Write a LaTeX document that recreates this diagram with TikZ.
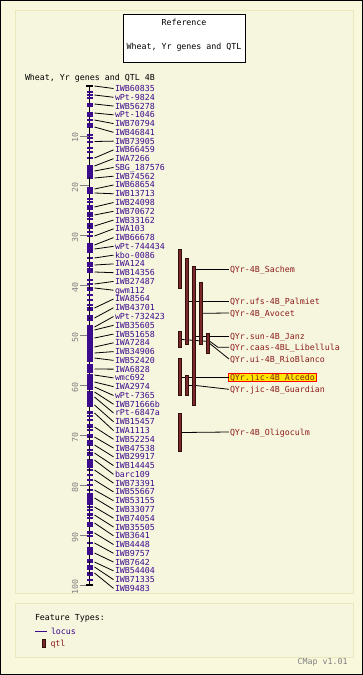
\documentclass[tikz,border=0pt]{standalone}
\usepackage{fontspec}
\newfontfamily\pixfont{DejaVu Sans Mono}
\definecolor{outerbg}{RGB}{250,248,220}
\definecolor{innerbg}{RGB}{246,245,222}
\definecolor{innerline}{RGB}{234,232,188}
\definecolor{locuscol}{RGB}{60,10,140}
\definecolor{qtlfill}{RGB}{125,40,40}
\definecolor{qtltext}{RGB}{140,30,30}
\definecolor{scalecol}{RGB}{128,128,128}
\definecolor{hilite}{RGB}{255,232,0}
\tikzset{
  txt/.style={font=\pixfont\fontsize{8.3}{9}\selectfont, inner sep=0pt, outer sep=0pt, text height=6.5pt, text depth=0.5pt},
  locuslabel/.style={txt, text=locuscol, anchor=west},
  qtllabel/.style={txt, text=qtltext, anchor=west},
  scalelabel/.style={txt, text=scalecol, rotate=90},
  conn/.style={draw=black, line width=0.8pt},
  qtlbar/.style={fill=qtlfill, draw=black!60!qtlfill, line width=0.5pt},
  panel/.style={draw=innerline, fill=innerbg, line width=1pt},
}
\begin{document}
\begin{tikzpicture}[x=1pt,y=-1pt]
\useasboundingbox (0,0) rectangle (363,675);
\fill[outerbg] (0,0) rectangle (363,675);
\draw[black, line width=1pt] (0.5,0.5) rectangle (362.5,674.5);
\path[panel] (15,10) rectangle (353,593);
\path[panel] (15,603) rectangle (353,657);

% title box
\node[draw=black, fill=white, line width=0.8pt, minimum width=122pt, minimum height=48pt, inner sep=0pt] (titlebox) at (184,38) {};
\node[txt] (ttl1) at (184,22) {Reference};
\node[txt] (ttl2) at (184,46) {Wheat, Yr genes and QTL};
\node[txt, anchor=west] (hdr) at (25,77) {Wheat, Yr genes and QTL 4B};

% scale
\foreach \v in {10,20,...,100} {
  \pgfmathsetmacro\yy{86+4.99*\v}
  \draw[scalecol, line width=0.8pt] (80,\yy) -- (89,\yy);
  \node[scalelabel] (s\v) at (75,\yy+2) {\v};
}

% connectors of loci (drawn first)
\foreach \nm/\ly [count=\i] in {
 IWB60835/86, wPt-9824/95, IWB56278/104, wPt-1046/113, IWB70794/120, IWB46841/127,
 IWB73905/141.5, IWB66459/158, IWA7266/166, SBG\_187576/171, IWB74562/178, IWB68654/189,
 IWB13713/193, IWB24098/207, IWB70672/215, IWB33162/226, IWA103/236, IWB66678/245,
 wPt-744434/249, kbo-0086/258, IWA124/265, IWB14356/272, IWB27487/284, gwm112/288,
 IWA8564/308, IWB43701/318, wPt-732423/327, IWB35605/330, IWB51658/338, IWA7284/347,
 IWB34906/353, IWB52420/358, IWA6828/369, wmc692/375, IWA2974/382, wPt-7365/387,
 IWB71666b/392, rPt-6847a/397, IWB15457/405, IWA1113/413, IWB52254/427, IWB47538/437,
 IWB29917/445, IWB14445/453, barc109/460, IWB73391/470, IWB55667/480, IWB53155/490,
 IWB33077/498, IWB74054/507, IWB35505/515, IWB3641/523, IWB4448/533, IWB9757/543,
 IWB7642/553, IWB54404/562, IWB71335/567, IWB9483/573} {
  \pgfmathsetmacro\lbly{88.5+8.77*(\i-1)}
  \coordinate (p\i) at (94.5,\ly);
  \node[locuslabel] (l\i) at (115,\lbly) {\nm};
  \draw[conn] (p\i) -- ([xshift=-1.5pt]l\i.west);
  \fill[locuscol] (86.5,\ly-0.8) rectangle (92.5,\ly+0.8);
}

% chromosome
\coordinate (ctop) at (89.5,86);
\coordinate (cbot) at (89.5,585);
\draw[black, line width=1.5pt] (ctop) -- (cbot);
\draw[black, line width=1.2pt] ([xshift=-3.5pt]ctop) -- ([xshift=3.5pt]ctop);
\draw[black, line width=1.2pt] ([xshift=-3.5pt]cbot) -- ([xshift=3.5pt]cbot);
\foreach \a/\b in {103/107,112/117,123/127,165/177,187/194,205/210,243/253,262/267,268/273,
  325/362,363.5/373,374/390,391.5/407,440/445,460/468,493/505,522/527,547/555,565/570}
  \fill[locuscol] (86.5,\a) rectangle (92.5,\b);
\foreach \y in {92,95,98,120,135,138,142,148,152,199,202,213,216,219,224,228,232,236,
  280,284,290,295,300,305,310,316,320,412,416,420,425,430,435,450,455,475,480,485,
  510,514,518,532,536,560,575,580}
  \fill[locuscol] (86.5,\y-0.8) rectangle (92.5,\y+0.8);

% QTL labels
\node[qtllabel] (sachem) at (230,269.3) {QYr-4B\_Sachem};
\node[qtllabel] (palmiet) at (230,301.3) {QYr.ufs-4B\_Palmiet};
\node[qtllabel] (avocet) at (230,313) {QYr-4B\_Avocet};
\node[qtllabel] (janz) at (230,336) {QYr.sun-4B\_Janz};
\node[qtllabel] (libellula) at (230,347.3) {QYr.caas-4BL\_Libellula};
\node[qtllabel] (rioblanco) at (230,359) {QYr.ui-4B\_RioBlanco};
\node[qtllabel, fill=hilite, draw=red, line width=0.8pt, inner xsep=1.5pt, inner ysep=0.4pt] (alcedo) at (228.5,377) {QYr.jic-4B\_Alcedo};
\node[qtllabel] (guardian) at (230,389.3) {QYr.jic-4B\_Guardian};
\node[qtllabel] (olig) at (230,432) {QYr-4B\_Oligoculm};

% QTL connector starts
\coordinate (q1) at (195.7,269.3);
\coordinate (q2) at (188.7,301.3);
\coordinate (q4) at (202.7,313.3);
\coordinate (q3) at (195.7,336);
\coordinate (q5) at (181.7,339.5);
\coordinate (q6) at (209.7,343.5);
\coordinate (q7) at (181.7,377);
\coordinate (q8) at (188.7,385.5);
\coordinate (q9) at (181.7,432.5);

\draw[conn] (q1) -- ([xshift=-1pt]sachem.west);
\draw[conn] (q2) -- ([xshift=-1pt]palmiet.west);
\draw[conn] (q4) -- ([xshift=-1pt]avocet.west);
\draw[conn] (q3) -- ([xshift=-1pt]janz.west);
\draw[conn] (q5) -- (210,341.5) -- (218,347.3) -- ([xshift=-1pt]libellula.west);
\draw[conn] (q6) -- ([xshift=-1pt]rioblanco.west);
\draw[conn] (q7) -- (alcedo.west);
\draw[conn] (q8) -- (195.7,385.5) -- ([xshift=-1pt]guardian.west);
\draw[conn] (q9) -- ([xshift=-1pt]olig.west);

% QTL bars
\path[qtlbar] (178.3,249.3) rectangle (181.7,288.3);
\path[qtlbar] (185.3,258.3) rectangle (188.7,344.3);
\path[qtlbar] (192.3,266) rectangle (195.7,405.7);
\path[qtlbar] (199.3,282.3) rectangle (202.7,344.3);
\path[qtlbar] (178.3,331) rectangle (181.7,347.7);
\path[qtlbar] (206.3,333.3) rectangle (209.7,353.3);
\path[qtlbar] (178.3,358.3) rectangle (181.7,395.7);
\path[qtlbar] (185.3,375) rectangle (188.7,395.7);
\path[qtlbar] (178.3,413.3) rectangle (181.7,451.7);

% legend
\node[txt, anchor=west] (ft) at (35,617.3) {Feature Types:};
\coordinate (lgA) at (35,631.7);
\coordinate (lgB) at (46.5,631.7);
\draw[locuscol, line width=1pt] (lgA) -- (lgB);
\node[txt, text=locuscol, anchor=west] (lg1) at (51,631) {locus};
\path[qtlbar] (42.7,639.3) rectangle (45.7,647);
\node[txt, text=qtltext, anchor=west] (lg2) at (50.5,643.5) {qtl};
\node[txt, text=scalecol, anchor=west] (ver) at (297.7,661.5) {CMap v1.01};
\end{tikzpicture}
\end{document}
